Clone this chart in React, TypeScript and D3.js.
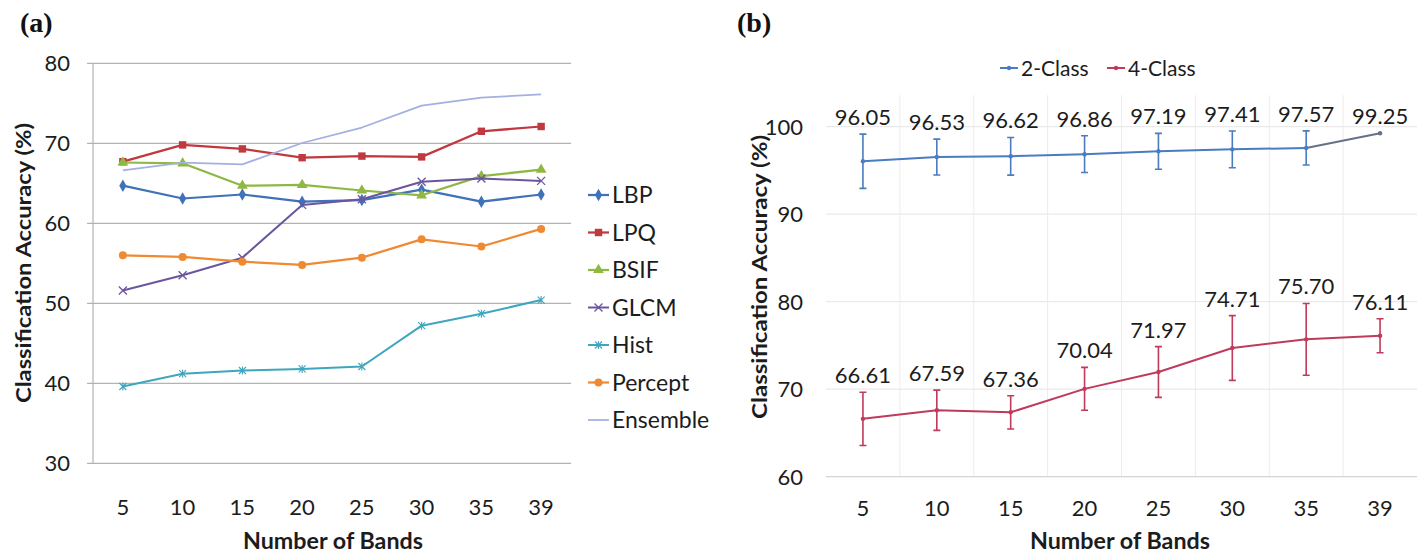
import React from "react";
import * as d3 from "d3";

// number of bands (category axis, shared by both panels)
const bands = ["5", "10", "15", "20", "25", "30", "35", "39"];

// panel (a) - accuracy per descriptor
const lbp = [64.7, 63.1, 63.6, 62.7, 62.9, 64.2, 62.7, 63.6];
const lpq = [67.7, 69.8, 69.3, 68.2, 68.4, 68.3, 71.5, 72.1];
const bsif = [67.6, 67.5, 64.7, 64.8, 64.1, 63.5, 65.9, 66.7];
const glcm = [51.6, 53.5, 55.7, 62.3, 63.0, 65.2, 65.6, 65.3];
const hist = [39.6, 41.2, 41.6, 41.8, 42.1, 47.2, 48.7, 50.4];
const percept = [56.0, 55.8, 55.2, 54.8, 55.7, 58.0, 57.1, 59.3];
const ensemble = [66.61, 67.59, 67.36, 70.04, 71.97, 74.71, 75.7, 76.11];
const ticksA = [30, 40, 50, 60, 70, 80];

// panel (b) - 2-class vs 4-class with error bars
const twoClass = [96.05, 96.53, 96.62, 96.86, 97.19, 97.41, 97.57, 99.25];
const twoClassErr = [3.1, 2.05, 2.15, 2.1, 2.05, 2.1, 1.95, 0];
const fourClass = [66.61, 67.59, 67.36, 70.04, 71.97, 74.71, 75.7, 76.11];
const fourClassErr = [3.05, 2.3, 1.9, 2.45, 2.9, 3.7, 4.1, 1.95];
const ticksB = [60, 70, 80, 90, 100];

const FONT = "Lato, 'Open Sans', sans-serif";
const TXT = "#1c1c1c";

type Marker = "diamond" | "square" | "triangle" | "x" | "star" | "circle" | "none";

const seriesA: { name: string; values: number[]; color: string; marker: Marker; width: number }[] = [
  { name: "LBP", values: lbp, color: "#3f72b8", marker: "diamond", width: 2.25 },
  { name: "LPQ", values: lpq, color: "#c0393f", marker: "square", width: 2.25 },
  { name: "BSIF", values: bsif, color: "#8fb843", marker: "triangle", width: 2.25 },
  { name: "GLCM", values: glcm, color: "#6b55a0", marker: "x", width: 2 },
  { name: "Hist", values: hist, color: "#3ea6be", marker: "star", width: 2 },
  { name: "Percept", values: percept, color: "#ef8a33", marker: "circle", width: 2.25 },
  { name: "Ensemble", values: ensemble, color: "#a3b0e0", marker: "none", width: 1.75 },
];

const drawMarker = (m: Marker, x: number, y: number, color: string, key: string) => {
  switch (m) {
    case "diamond":
      return <path key={key} d={d3.symbol(d3.symbolDiamond, 45)()!} transform={`translate(${x},${y})`} fill={color} />;
    case "square":
      return <path key={key} d={d3.symbol(d3.symbolSquare, 55)()!} transform={`translate(${x},${y})`} fill={color} />;
    case "triangle":
      return <path key={key} d={d3.symbol(d3.symbolTriangle, 50)()!} transform={`translate(${x},${y})`} fill={color} />;
    case "circle":
      return <circle key={key} cx={x} cy={y} r={4} fill={color} />;
    case "x":
      return (
        <path key={key} d={`M${x - 4},${y - 4}L${x + 4},${y + 4}M${x - 4},${y + 4}L${x + 4},${y - 4}`} stroke={color} strokeWidth={1.3} />
      );
    case "star":
      return (
        <path
          key={key}
          d={`M${x - 3.5},${y - 3.5}L${x + 3.5},${y + 3.5}M${x - 3.5},${y + 3.5}L${x + 3.5},${y - 3.5}M${x},${y - 4}L${x},${y + 4}`}
          stroke={color}
          strokeWidth={1.1}
        />
      );
    default:
      return null;
  }
};

const PanelA = () => {
  const x = d3.scaleBand().domain(bands).range([93, 571]);
  const y = d3.scaleLinear().domain([30, 80]).range([463.3, 63.3]);
  const cx = (b: string) => x(b)! + x.bandwidth() / 2;
  const line = d3
    .line<number>()
    .x((_, i) => cx(bands[i]))
    .y((v) => y(v));

  return (
    <g>
      <text x={20} y={32} fontFamily="'Times New Roman', 'Liberation Serif', serif" fontWeight="bold" fontSize={28} fill="#111">
        (a)
      </text>
      {/* gridlines */}
      {ticksA.map((t) => (
        <g key={t}>
          <line x1={87} x2={571} y1={y(t)} y2={y(t)} stroke="#b3b3b3" strokeWidth={1.2} />
          <text x={70} y={y(t)} dy="0.36em" textAnchor="end" fontFamily={FONT} fontSize={22} fill={TXT}>
            {t}
          </text>
        </g>
      ))}
      <line x1={93} x2={93} y1={y(80)} y2={y(30)} stroke="#b3b3b3" strokeWidth={1.2} />
      {bands.map((b) => (
        <text key={b} x={cx(b)} y={507} dy="0.36em" textAnchor="middle" fontFamily={FONT} fontSize={22} fill={TXT}>
          {b}
        </text>
      ))}
      {/* series */}
      {seriesA.map((s) => (
        <g key={s.name}>
          <path d={line(s.values)!} fill="none" stroke={s.color} strokeWidth={s.width} strokeLinejoin="round" />
          {s.values.map((v, i) => drawMarker(s.marker, cx(bands[i]), y(v), s.color, `${s.name}-${i}`))}
        </g>
      ))}
      {/* legend */}
      {seriesA.map((s, i) => {
        const ly = 195 + i * 37.5;
        return (
          <g key={s.name}>
            <line x1={588} x2={609} y1={ly} y2={ly} stroke={s.color} strokeWidth={s.width} />
            {drawMarker(s.marker, 598.5, ly, s.color, `lg-${s.name}`)}
            <text x={612} y={ly} dy="0.36em" fontFamily={FONT} fontSize={23} fill={TXT}>
              {s.name}
            </text>
          </g>
        );
      })}
      <text
        transform={`translate(31,263) rotate(-90)`}
        textAnchor="middle"
        fontFamily={FONT}
        fontWeight="bold"
        fontSize={21}
        textLength={280}
        lengthAdjust="spacingAndGlyphs"
        fill={TXT}
      >
        Classification Accuracy (%)
      </text>
      <text
        x={333}
        y={549}
        textAnchor="middle"
        fontFamily={FONT}
        fontWeight="bold"
        fontSize={22}
        textLength={180}
        lengthAdjust="spacingAndGlyphs"
        fill={TXT}
      >
        Number of Bands
      </text>
    </g>
  );
};

const PanelB = () => {
  const x = d3.scaleBand().domain(bands).range([826, 1417]);
  const y = d3.scaleLinear().domain([60, 100]).range([476.7, 126.7]);
  const top = y(103.6);
  const cx = (b: string) => x(b)! + x.bandwidth() / 2;
  const line = d3
    .line<number>()
    .x((_, i) => cx(bands[i]))
    .y((v) => y(v));
  const blue = "#4a7cc0";
  const red = "#bf3a5c";

  const series = [
    { name: "2-Class", values: twoClass, err: twoClassErr, color: blue },
    { name: "4-Class", values: fourClass, err: fourClassErr, color: red },
  ];

  return (
    <g>
      <text x={737} y={32} fontFamily="'Times New Roman', 'Liberation Serif', serif" fontWeight="bold" fontSize={28} fill="#111">
        (b)
      </text>
      {/* vertical gridlines between categories */}
      {bands.slice(1).map((b) => (
        <line key={b} x1={x(b)} x2={x(b)} y1={top} y2={y(60)} stroke="#ececec" strokeWidth={1} />
      ))}
      {ticksB.map((t) => (
        <g key={t}>
          <line x1={826} x2={1417} y1={y(t)} y2={y(t)} stroke={t === 60 ? "#d4d4d4" : "#eaeaea"} strokeWidth={1.2} />
          <text x={803} y={y(t)} dy="0.36em" textAnchor="end" fontFamily={FONT} fontSize={22} fill={TXT}>
            {t}
          </text>
        </g>
      ))}
      {bands.map((b) => (
        <text key={b} x={cx(b)} y={508} dy="0.36em" textAnchor="middle" fontFamily={FONT} fontSize={22} fill={TXT}>
          {b}
        </text>
      ))}
      {series.map((s) => (
        <g key={s.name}>
          <path d={line(s.values.slice(0, 7))!} fill="none" stroke={s.color} strokeWidth={2} strokeLinejoin="round" />
          <path
            d={`M${cx(bands[6])},${y(s.values[6])}L${cx(bands[7])},${y(s.values[7])}`}
            fill="none"
            stroke={s.name === "2-Class" ? "#66708a" : s.color}
            strokeWidth={2}
          />
          {s.values.map((v, i) => {
            const px = cx(bands[i]);
            const e = s.err[i];
            return (
              <g key={i}>
                {e > 0 && (
                  <path
                    d={`M${px},${y(v + e)}L${px},${y(v - e)}M${px - 3.5},${y(v + e)}L${px + 3.5},${y(v + e)}M${px - 3.5},${y(v - e)}L${px + 3.5},${y(v - e)}`}
                    stroke={s.color}
                    strokeWidth={1.6}
                    fill="none"
                  />
                )}
                <circle cx={px} cy={y(v)} r={2.2} fill={i === 7 && s.name === "2-Class" ? "#66708a" : s.color} />
                <text x={px} y={y(v + e) - 9} textAnchor="middle" fontFamily={FONT} fontSize={22} fill={TXT}>
                  {v.toFixed(2)}
                </text>
              </g>
            );
          })}
        </g>
      ))}
      {/* legend */}
      {series.map((s, i) => {
        const lx = 1000 + i * 107;
        return (
          <g key={s.name}>
            <line x1={lx} x2={lx + 18} y1={68} y2={68} stroke={s.color} strokeWidth={2} />
            <circle cx={lx + 9} cy={68} r={2.2} fill={s.color} />
            <text x={lx + 21} y={68} dy="0.36em" fontFamily={FONT} fontSize={21} fill={TXT}>
              {s.name}
            </text>
          </g>
        );
      })}
      <text
        transform={`translate(767,277) rotate(-90)`}
        textAnchor="middle"
        fontFamily={FONT}
        fontWeight="bold"
        fontSize={21}
        textLength={284}
        lengthAdjust="spacingAndGlyphs"
        fill={TXT}
      >
        Classification Accuracy (%)
      </text>
      <text
        x={1120}
        y={549}
        textAnchor="middle"
        fontFamily={FONT}
        fontWeight="bold"
        fontSize={22}
        textLength={180}
        lengthAdjust="spacingAndGlyphs"
        fill={TXT}
      >
        Number of Bands
      </text>
    </g>
  );
};

export default function App() {
  return (
    <div style={{ position: "absolute", left: 0, top: 0 }}>
      <svg width={1421} height={556} style={{ display: "block", background: "#fff" }}>
        <PanelA />
        <PanelB />
      </svg>
    </div>
  );
}
